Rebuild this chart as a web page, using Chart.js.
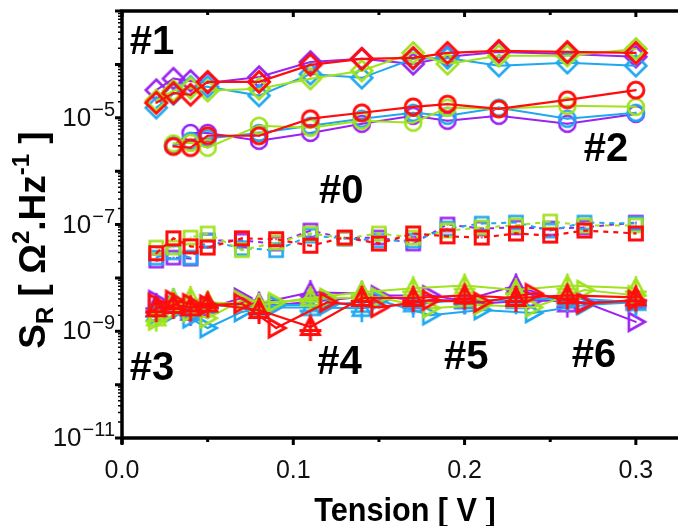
<!DOCTYPE html>
<html>
<head>
<meta charset="utf-8">
<script src="https://cdn.jsdelivr.net/npm/chart.js@4.4.0/dist/chart.umd.min.js"></script>
<style>
  html, body { margin: 0; padding: 0; background: #fff; overflow: hidden; }
  #wrap { width: 678px; height: 526px; }
</style>
</head>
<body>
<div id="wrap"><canvas id="chart" width="678" height="526"></canvas></div>
<script>
const purple = "#9a22f2";
const blue = "#1fa8f0";
const green = "#a0e21c";
const red = "#ff0d0d";

// #1 diamonds
const diamondX = [0.02, 0.03, 0.04, 0.05, 0.08, 0.11, 0.14, 0.17, 0.19, 0.22, 0.26, 0.30];
const diamondPurple = [3.3e-5, 5.4e-5, 4.9e-5, 4.5e-5, 5.8e-5, 1.11e-4, 1.27e-4, 1.02e-4, 1.39e-4, 1.71e-4, 1.57e-4, 1.39e-4];
const diamondBlue = [1.54e-5, 2.8e-5, 3.8e-5, 3.8e-5, 2.6e-5, 6.6e-5, 5.6e-5, 1.27e-4, 1.32e-4, 9.4e-5, 1.07e-4, 9.4e-5];
const diamondGreen = [2.1e-5, 3.2e-5, 3.6e-5, 3.2e-5, 3.5e-5, 5.4e-5, 7.6e-5, 1.64e-4, 1.02e-4, 1.45e-4, 1.45e-4, 1.95e-4];
const diamondRed = [1.9e-5, 2.9e-5, 2.7e-5, 4.7e-5, 4.7e-5, 9.8e-5, 1.27e-4, 1.32e-4, 1.64e-4, 1.79e-4, 1.71e-4, 1.64e-4];

// #2 circles
const circleX = [0.03, 0.04, 0.05, 0.08, 0.11, 0.14, 0.17, 0.19, 0.22, 0.26, 0.30];
const circlePurple = [3.0e-6, 5.2e-6, 5.2e-6, 3.7e-6, 5.2e-6, 7.7e-6, 1.09e-5, 8.8e-6, 1.09e-5, 7.7e-6, 1.18e-5];
const circleBlue = [3.0e-6, 3.7e-6, 4.1e-6, 5.2e-6, 7.1e-6, 9.6e-6, 1.24e-5, 1.09e-5, 1.54e-5, 9.6e-6, 1.24e-5];
const circleGreen = [3.3e-6, 3.4e-6, 2.75e-6, 7.1e-6, 6.5e-6, 8.8e-6, 8.1e-6, 1.54e-5, 1.47e-5, 1.67e-5, 1.6e-5];
const circleRed = [2.9e-6, 2.75e-6, 4.6e-6, 4.6e-6, 9.6e-6, 1.24e-5, 1.6e-5, 1.8e-5, 1.47e-5, 2.17e-5, 3.3e-5];

// #0 squares (dashed)
const squareX = [0.02, 0.03, 0.04, 0.05, 0.07, 0.09, 0.11, 0.13, 0.15, 0.17, 0.19, 0.21, 0.23, 0.25, 0.27, 0.30];
const squarePurple = [2.1e-8, 2.4e-8, 2.3e-8, 5.0e-8, 5.0e-8, 4.4e-8, 7.7e-8, 5.5e-8, 5.7e-8, 4.4e-8, 1.0e-7, 8.4e-8, 8.8e-8, 8.4e-8, 8.8e-8, 1.09e-7];
const squareBlue = [2.4e-8, 3.0e-8, 2.4e-8, 5.0e-8, 3.6e-8, 3.3e-8, 6.2e-8, 5.5e-8, 5.0e-8, 5.0e-8, 8.4e-8, 1.04e-7, 1.09e-7, 7.7e-8, 1.09e-7, 1.04e-7];
const squareGreen = [3.7e-8, 3.7e-8, 5.7e-8, 6.8e-8, 3.3e-8, 4.6e-8, 6.8e-8, 5.5e-8, 6.8e-8, 5.7e-8, 7.7e-8, 8.8e-8, 9.6e-8, 1.14e-7, 9.6e-8, 9.6e-8];
const squareRed = [2.9e-8, 5.5e-8, 3.9e-8, 3.7e-8, 5.5e-8, 5.3e-8, 4.0e-8, 5.7e-8, 4.4e-8, 6.8e-8, 6.0e-8, 5.7e-8, 6.8e-8, 6.2e-8, 7.7e-8, 6.8e-8];

// #3-#6 up triangles with cross
const triUpX = [0.02, 0.03, 0.04, 0.05, 0.08, 0.11, 0.14, 0.17, 0.20, 0.23, 0.26, 0.30];
const triUpPurple = [3.1e-9, 3.3e-9, 2.3e-9, 3.1e-9, 3.3e-9, 5.4e-9, 5.1e-9, 3.8e-9, 3.8e-9, 7.2e-9, 3.3e-9, 3.8e-9];
const triUpBlue = [2.2e-9, 3.8e-9, 2.5e-9, 3.1e-9, 2.8e-9, 2.8e-9, 2.7e-9, 3.3e-9, 3.8e-9, 3.8e-9, 4.2e-9, 3.5e-9];
const triUpGreen = [1.8e-9, 3.8e-9, 4.2e-9, 3.5e-9, 3.1e-9, 4.2e-9, 5.4e-9, 6.4e-9, 7.2e-9, 5.9e-9, 7.2e-9, 6.4e-9];
const triUpRed = [2.7e-9, 3.1e-9, 2.8e-9, 3.3e-9, 2.5e-9, 1.2e-9, 4.2e-9, 4.2e-9, 4.7e-9, 4.2e-9, 4.7e-9, 4.3e-9];

// #3-#6 right triangles
const triRightX = [0.02, 0.03, 0.04, 0.05, 0.07, 0.09, 0.12, 0.15, 0.18, 0.21, 0.24, 0.27, 0.30];
const triRightPurple = [3.8e-9, 3.1e-9, 2.5e-9, 2.7e-9, 4.2e-9, 3.1e-9, 3.8e-9, 4.7e-9, 4.7e-9, 3.3e-9, 3.8e-9, 3.5e-9, 1.5e-9];
const triRightBlue = [2.0e-9, 2.3e-9, 1.75e-9, 1.15e-9, 2.3e-9, 3.1e-9, 3.1e-9, 3.8e-9, 2.0e-9, 2.5e-9, 2.2e-9, 3.1e-9, 3.5e-9];
const triRightGreen = [1.6e-9, 2.5e-9, 2.3e-9, 1.75e-9, 3.8e-9, 3.5e-9, 4.2e-9, 4.3e-9, 2.7e-9, 3.1e-9, 2.8e-9, 5.9e-9, 4.7e-9];
const triRightRed = [3.3e-9, 3.8e-9, 3.3e-9, 3.1e-9, 3.3e-9, 1.15e-9, 3.5e-9, 2.8e-9, 3.8e-9, 3.5e-9, 5.1e-9, 3.3e-9, 3.8e-9];

// axes
const xMajorTicks = [0, 0.1, 0.2, 0.3];
const xTickLabels = ["0.0", "0.1", "0.2", "0.3"];
const xMinorTicks = [0.05, 0.15, 0.25];
const yDecades = [-11, -10, -9, -8, -7, -6, -5, -4, -3];
const yLabelExps = [-11, -9, -7, -5];
const groupLabels = [
  { text: "#1", x: 0.0175, y: 2.5e-4 },
  { text: "#2", x: 0.2826, y: 2.5e-6 },
  { text: "#0", x: 0.128, y: 4.0e-7 },
  { text: "#3", x: 0.0175, y: 2.0e-10 },
  { text: "#4", x: 0.127, y: 2.6e-10 },
  { text: "#5", x: 0.201, y: 3.2e-10 },
  { text: "#6", x: 0.2755, y: 3.5e-10 }
];

function makeMarker(shape, color) {
  const s = 34;
  const m = s / 2;
  const c = document.createElement("canvas");
  c.width = s; c.height = s;
  const g = c.getContext("2d");
  g.strokeStyle = color;
  g.fillStyle = color;
  g.lineWidth = color === red ? 3 : 2.6;
  g.lineJoin = "miter";
  g.beginPath();
  if (shape === "diamond") {
    g.moveTo(m, m - 10.5); g.lineTo(m + 10.5, m); g.lineTo(m, m + 10.5); g.lineTo(m - 10.5, m); g.closePath();
  } else if (shape === "circle") {
    g.arc(m, m, 8, 0, Math.PI * 2);
  } else if (shape === "square") {
    g.rect(m - 6.5, m - 6.5, 13, 13);
  } else if (shape === "triUp") {
    g.moveTo(m, m - 10); g.lineTo(m + 9, m + 7.5); g.lineTo(m - 9, m + 7.5); g.closePath();
    g.moveTo(m, m - 12); g.lineTo(m, m + 14);
    g.moveTo(m - 11, m + 3.5); g.lineTo(m + 11, m + 3.5);
  } else if (shape === "triRight") {
    g.moveTo(m + 9, m); g.lineTo(m - 7, m - 9); g.lineTo(m - 7, m + 9); g.closePath();
  }
  g.stroke();
  g.beginPath();
  g.arc(m, m, 0.9, 0, Math.PI * 2);
  g.fill();
  return c;
}

function toPoints(xs, ys) {
  return xs.map((x, i) => ({ x, y: ys[i] }));
}

const colorOrder = [[red, 0], [green, 1], [blue, 2], [purple, 3]];

function series(shape, xs, byColor, dashed) {
  return colorOrder.map(([color, order]) => ({
    data: toPoints(xs, byColor[color]),
    borderColor: color,
    borderWidth: color === red ? 2.2 : 2,
    borderDash: dashed ? [5, 5] : [],
    pointStyle: makeMarker(shape, color),
    pointRadius: 10,
    showLine: true,
    tension: 0,
    order
  }));
}

const datasets = [
  ...series("diamond", diamondX, { [purple]: diamondPurple, [blue]: diamondBlue, [green]: diamondGreen, [red]: diamondRed }, false),
  ...series("circle", circleX, { [purple]: circlePurple, [blue]: circleBlue, [green]: circleGreen, [red]: circleRed }, false),
  ...series("square", squareX, { [purple]: squarePurple, [blue]: squareBlue, [green]: squareGreen, [red]: squareRed }, true),
  ...series("triRight", triRightX, { [purple]: triRightPurple, [blue]: triRightBlue, [green]: triRightGreen, [red]: triRightRed }, false),
  ...series("triUp", triUpX, { [purple]: triUpPurple, [blue]: triUpBlue, [green]: triUpGreen, [red]: triUpRed }, false)
];

const FONT = "'Liberation Sans', Arial, sans-serif";

const frame = {
  id: "frame",
  afterDraw(chart) {
    const { ctx, chartArea: a, scales: { x, y } } = chart;
    ctx.save();
    ctx.strokeStyle = "#000";
    ctx.lineWidth = 3.5;
    ctx.beginPath();
    ctx.moveTo(a.left - 1.7, a.top); ctx.lineTo(a.right, a.top);
    ctx.moveTo(a.left, a.top); ctx.lineTo(a.left, a.bottom + 6);
    ctx.moveTo(a.left - 1.7, a.bottom); ctx.lineTo(a.right, a.bottom);
    ctx.stroke();

    // x ticks, outward at bottom, inward at top
    ctx.lineWidth = 3;
    ctx.beginPath();
    xMajorTicks.forEach(v => {
      const px = x.getPixelForValue(v);
      ctx.moveTo(px, a.bottom); ctx.lineTo(px, a.bottom + 7);
      ctx.moveTo(px, a.top); ctx.lineTo(px, a.top + 6);
    });
    xMinorTicks.forEach(v => {
      const px = x.getPixelForValue(v);
      ctx.moveTo(px, a.bottom); ctx.lineTo(px, a.bottom + 4);
      ctx.moveTo(px, a.top); ctx.lineTo(px, a.top + 4);
    });
    ctx.stroke();

    // y ticks
    ctx.beginPath();
    yDecades.forEach(e => {
      const py = y.getPixelForValue(Math.pow(10, e));
      ctx.moveTo(a.left, py); ctx.lineTo(a.left - 7, py);
    });
    ctx.stroke();
    ctx.lineWidth = 1.5;
    ctx.beginPath();
    yDecades.slice(0, -1).forEach(e => {
      for (let k = 2; k < 10; k++) {
        const py = y.getPixelForValue(k * Math.pow(10, e));
        ctx.moveTo(a.left + 1, py); ctx.lineTo(a.left - 4, py);
      }
    });
    ctx.stroke();

    // y tick labels 10^n
    ctx.fillStyle = "#111";
    ctx.textBaseline = "alphabetic";
    yLabelExps.forEach(e => {
      const py = y.getPixelForValue(Math.pow(10, e));
      ctx.font = "20px " + FONT;
      const expText = "\u2212" + Math.abs(e);
      const ew = ctx.measureText(expText).width;
      ctx.textAlign = "left";
      ctx.fillText(expText, 115 - ew, py - 2);
      ctx.font = "26px " + FONT;
      ctx.textAlign = "right";
      ctx.fillText("10", 114 - ew, py + 8);
    });

    // x tick labels
    ctx.font = "25px " + FONT;
    ctx.textAlign = "center";
    xMajorTicks.forEach((v, i) => {
      ctx.fillText(xTickLabels[i], x.getPixelForValue(v), a.bottom + 40);
    });

    // x title
    ctx.fillStyle = "#000";
    ctx.save();
    ctx.translate(405, 521);
    ctx.scale(0.9, 1);
    ctx.font = "bold 34px " + FONT;
    ctx.fillText("Tension [ V ]", 0, 0);
    ctx.restore();

    // y title, rotated
    const parts = [
      { t: "S", size: 37, dy: 0 },
      { t: "R", size: 24, dy: 8 },
      { t: " [ Ω", size: 37, dy: 0 },
      { t: "2", size: 24, dy: -16 },
      { t: ".Hz", size: 37, dy: 0 },
      { t: "-1", size: 24, dy: -16 },
      { t: " ]", size: 37, dy: 0 }
    ];
    ctx.save();
    ctx.translate(45, 240);
    ctx.rotate(-Math.PI / 2);
    let total = 0;
    parts.forEach(p => {
      ctx.font = "bold " + p.size + "px " + FONT;
      p.w = ctx.measureText(p.t).width;
      total += p.w;
    });
    let cx = -total / 2;
    ctx.textAlign = "left";
    parts.forEach(p => {
      ctx.font = "bold " + p.size + "px " + FONT;
      ctx.fillText(p.t, cx, p.dy);
      cx += p.w;
    });
    ctx.restore();

    // group labels
    ctx.font = "bold 40px " + FONT;
    ctx.textAlign = "center";
    ctx.textBaseline = "middle";
    groupLabels.forEach(l => {
      ctx.fillText(l.text, x.getPixelForValue(l.x), y.getPixelForValue(l.y));
    });
    ctx.restore();
  }
};

new Chart(document.getElementById("chart"), {
  type: "scatter",
  data: { datasets },
  options: {
    responsive: false,
    animation: false,
    events: [],
    layout: { autoPadding: false, padding: { left: 122, top: 11, right: 0, bottom: 88 } },
    plugins: { legend: { display: false }, tooltip: { enabled: false } },
    scales: {
      x: { type: "linear", min: 0, max: 0.3246, display: false },
      y: { type: "logarithmic", min: 1e-11, max: 1e-3, display: false }
    }
  },
  plugins: [frame]
});
</script>
</body>
</html>
